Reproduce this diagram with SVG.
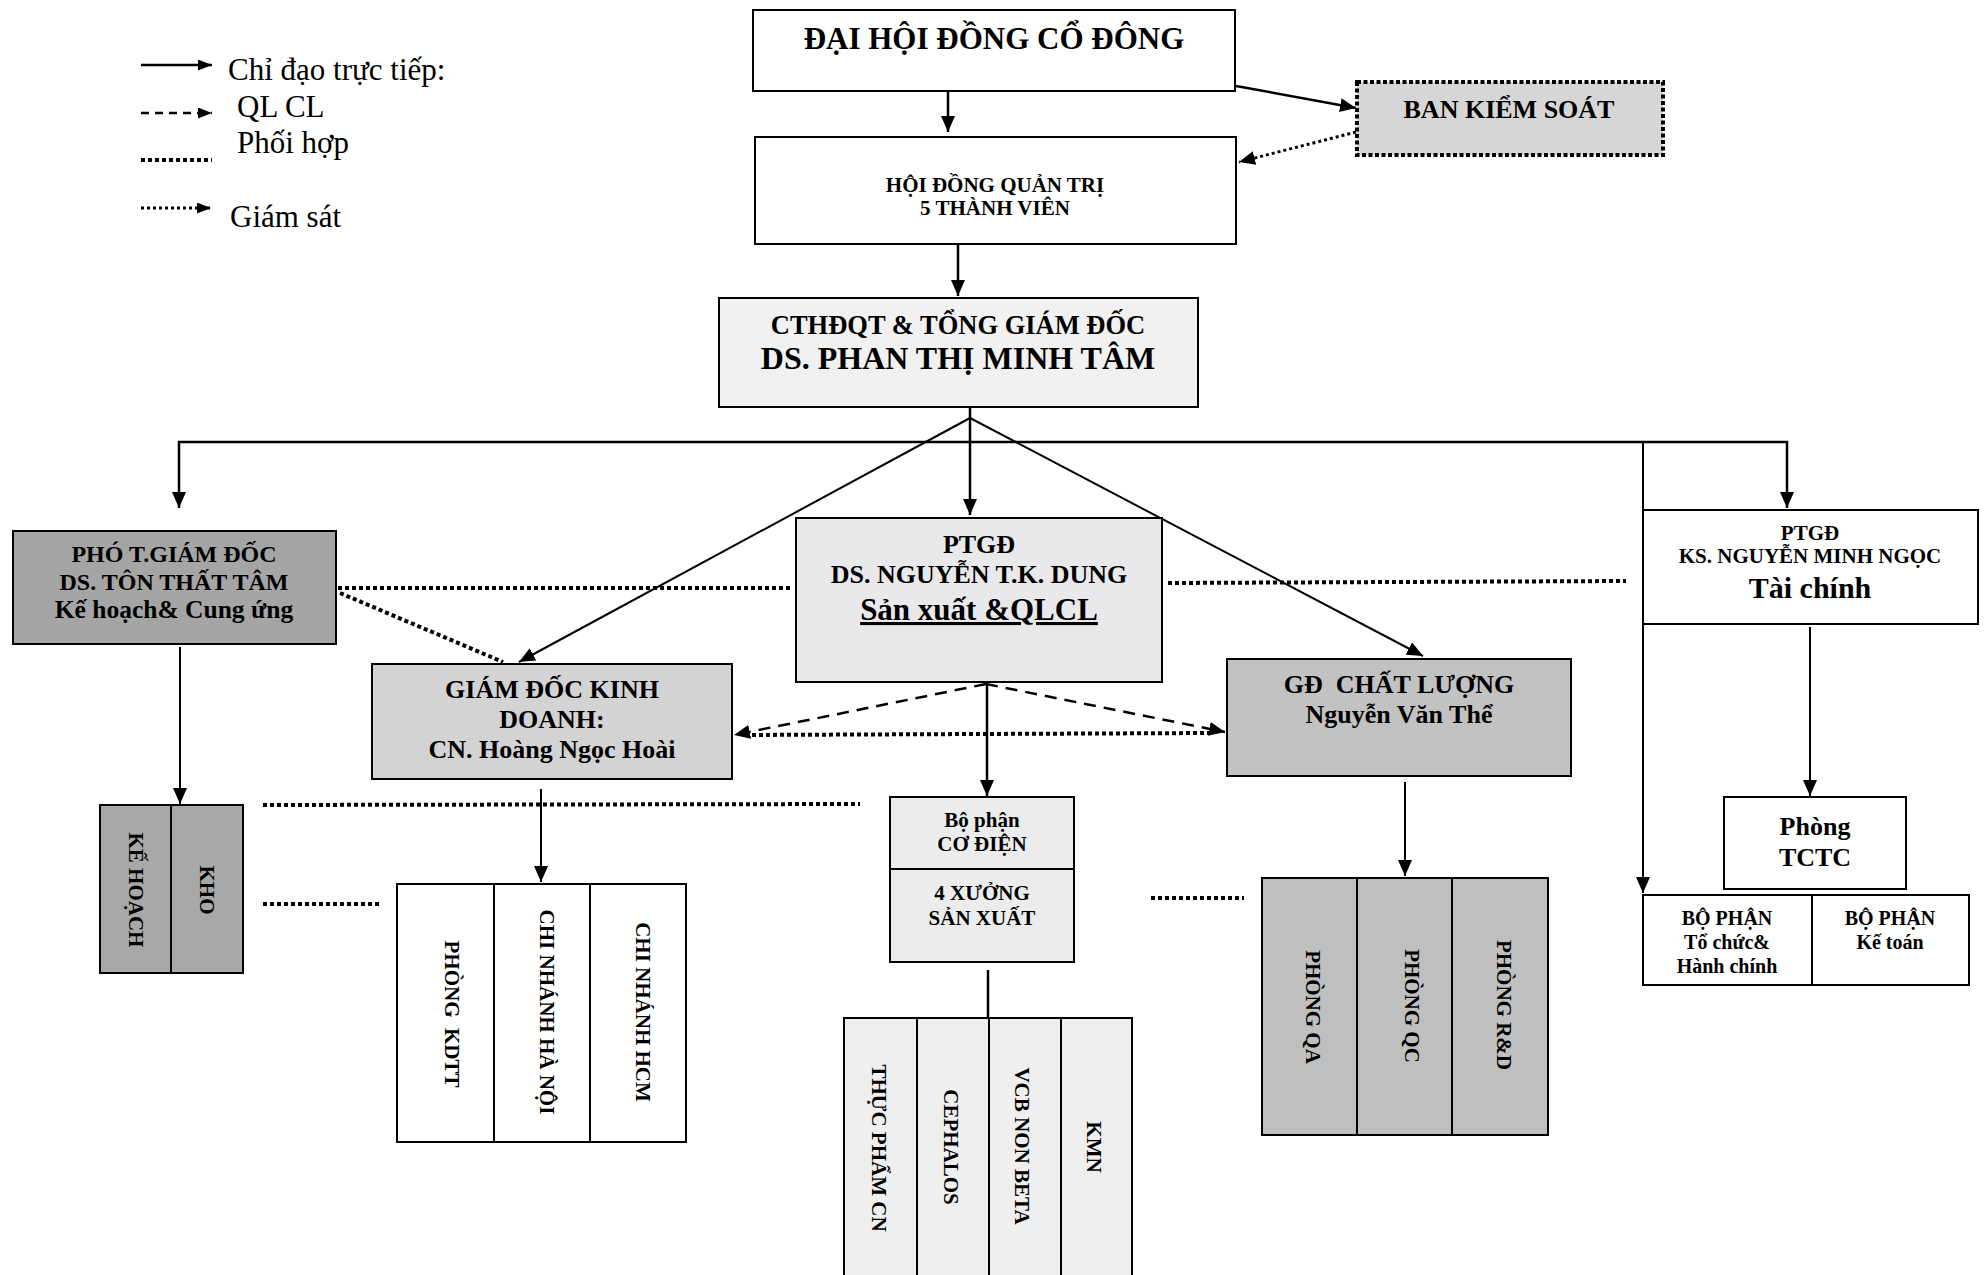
<svg xmlns="http://www.w3.org/2000/svg" width="1988" height="1275" viewBox="0 0 1988 1275">
<style>
.bx{stroke:#000;stroke-width:2}
.t{font-family:"Liberation Serif","Times New Roman",serif;font-weight:bold;fill:#000;text-anchor:middle}
.lg{font-family:"Liberation Serif","Times New Roman",serif;font-size:31px;fill:#000}
.v{dominant-baseline:central;font-size:21px}
.ln{stroke:#000;stroke-width:2.5;fill:none}
.th{stroke-width:2}
.dash{stroke-dasharray:12 8}
.dot{stroke-width:4;stroke-dasharray:4 3}
.gs{stroke-width:3;stroke-dasharray:3 3}
</style>
<defs>
<marker id="ah" viewBox="0 0 16 14" refX="16" refY="7" markerWidth="16" markerHeight="14" markerUnits="userSpaceOnUse" orient="auto"><path d="M0,0 L16,7 L0,14 z" fill="#000"/></marker>
<marker id="as" viewBox="0 0 14 11" refX="14" refY="5.5" markerWidth="14" markerHeight="11" markerUnits="userSpaceOnUse" orient="auto"><path d="M0,0 L14,5.5 L0,11 z" fill="#000"/></marker>
</defs>
<rect width="1988" height="1275" fill="#fff"/>

<g id="legend">
<line class="ln" x1="141" y1="65" x2="212" y2="65" marker-end="url(#as)"/>
<text class="lg" x="228" y="80">Chỉ đạo trực tiếp:</text>
<line class="ln dash" x1="141" y1="113" x2="212" y2="113" style="stroke-dasharray:8 6" marker-end="url(#as)"/>
<text class="lg" x="237" y="117">QL CL</text>
<text class="lg" x="237" y="153">Phối hợp</text>
<line class="ln dot" x1="141" y1="160" x2="212" y2="160"/>
<line class="ln gs" x1="141" y1="208" x2="211" y2="208" marker-end="url(#as)"/>
<text class="lg" x="230" y="227">Giám sát</text>
</g>

<g id="connectors">
<line class="ln" x1="948" y1="92" x2="948" y2="132" marker-end="url(#ah)"/>
<line class="ln" x1="1236" y1="86" x2="1356" y2="108" marker-end="url(#ah)"/>
<line class="ln gs" x1="1356" y1="132" x2="1239" y2="162" marker-end="url(#ah)"/>
<line class="ln" x1="958" y1="245" x2="958" y2="296" marker-end="url(#ah)"/>
<line class="ln" x1="970" y1="408" x2="970" y2="515" marker-end="url(#ah)"/>
<line class="ln th" x1="970" y1="418" x2="519" y2="662" marker-end="url(#ah)"/>
<line class="ln th" x1="970" y1="418" x2="1423" y2="656" marker-end="url(#ah)"/>
<path class="ln" d="M970,442 H179 V508" marker-end="url(#ah)"/>
<path class="ln" d="M970,442 H1787 V508" marker-end="url(#ah)"/>
<line class="ln th" x1="1643" y1="442" x2="1643" y2="893" marker-end="url(#ah)"/>
<line class="ln th" x1="180" y1="647" x2="180" y2="804" marker-end="url(#ah)"/>
<line class="ln th" x1="541" y1="789" x2="541" y2="882" marker-end="url(#ah)"/>
<line class="ln" x1="987" y1="683" x2="987" y2="796" marker-end="url(#ah)"/>
<line class="ln" x1="988" y1="970" x2="988" y2="1018"/>
<line class="ln th" x1="1405" y1="782" x2="1405" y2="876" marker-end="url(#ah)"/>
<line class="ln th" x1="1810" y1="627" x2="1810" y2="796" marker-end="url(#ah)"/>
<line class="ln dash" x1="986" y1="684" x2="734" y2="735" marker-end="url(#ah)"/>
<line class="ln dash" x1="986" y1="684" x2="1225" y2="732" marker-end="url(#ah)"/>
<line class="ln dot" x1="745" y1="735" x2="1212" y2="733"/>
<line class="ln dot" x1="338" y1="588" x2="790" y2="588"/>
<line class="ln dot" x1="1168" y1="583" x2="1626" y2="581"/>
<line class="ln dot" x1="340" y1="593" x2="503" y2="662"/>
<line class="ln dot" x1="263" y1="805" x2="860" y2="804"/>
<line class="ln dot" x1="263" y1="904" x2="380" y2="904"/>
<line class="ln dot" x1="1151" y1="898" x2="1244" y2="898"/>
</g>

<g id="dhdcd">
<rect class="bx" x="753" y="10" width="482" height="81" fill="#fff"/>
<text class="t" x="994" y="49" font-size="31">ĐẠI HỘI ĐỒNG CỔ ĐÔNG</text>
</g>

<g id="bks">
<rect x="1357" y="82" width="306" height="73" fill="#d6d6d6" stroke="#000" stroke-width="4" stroke-dasharray="4 2.5"/>
<text class="t" x="1509" y="118" font-size="26">BAN KIỂM SOÁT</text>
</g>

<g id="hdqt">
<rect class="bx" x="755" y="137" width="481" height="107" fill="#fff"/>
<text class="t" x="995" y="192" font-size="21">HỘI ĐỒNG QUẢN TRỊ</text>
<text class="t" x="995" y="215" font-size="21">5 THÀNH VIÊN</text>
</g>

<g id="tgd">
<rect class="bx" x="719" y="298" width="479" height="109" fill="#f1f1f1"/>
<text class="t" x="958" y="334" font-size="26.5">CTHĐQT &amp; TỔNG GIÁM ĐỐC</text>
<text class="t" x="958" y="369" font-size="32">DS. PHAN THỊ MINH TÂM</text>
</g>

<g id="pho-tgd">
<rect class="bx" x="13" y="531" width="323" height="113" fill="#a5a5a5"/>
<text class="t" x="174" y="562" font-size="24">PHÓ T.GIÁM ĐỐC</text>
<text class="t" x="174" y="590" font-size="24">DS. TÔN THẤT TÂM</text>
<text class="t" x="174" y="618" font-size="25.5">Kế hoạch&amp; Cung ứng</text>
</g>

<g id="gd-kd">
<rect class="bx" x="372" y="664" width="360" height="115" fill="#d3d3d3"/>
<text class="t" x="552" y="698" font-size="26">GIÁM ĐỐC KINH</text>
<text class="t" x="552" y="728" font-size="26">DOANH:</text>
<text class="t" x="552" y="758" font-size="26">CN. Hoàng Ngọc Hoài</text>
</g>

<g id="ptgd-dung">
<rect class="bx" x="796" y="518" width="366" height="164" fill="#e9e9eb"/>
<text class="t" x="979" y="553" font-size="26">PTGĐ</text>
<text class="t" x="979" y="583" font-size="26">DS. NGUYỄN T.K. DUNG</text>
<text class="t" x="979" y="620" font-size="31" text-decoration="underline">Sản xuất &amp;QLCL</text>
</g>

<g id="gd-cl">
<rect class="bx" x="1227" y="659" width="344" height="117" fill="#c2c2c2"/>
<text class="t" x="1399" y="693" font-size="26" style="white-space:pre">GĐ  CHẤT LƯỢNG</text>
<text class="t" x="1399" y="723" font-size="26">Nguyễn Văn Thể</text>
</g>

<g id="ptgd-ngoc">
<rect class="bx" x="1643" y="510" width="335" height="114" fill="#fff"/>
<text class="t" x="1810" y="540" font-size="21">PTGĐ</text>
<text class="t" x="1810" y="563" font-size="21">KS. NGUYỄN MINH NGỌC</text>
<text class="t" x="1810" y="598" font-size="30">Tài chính</text>
</g>

<g id="phong-tctc">
<rect class="bx" x="1724" y="797" width="182" height="92" fill="#fff"/>
<text class="t" x="1815" y="835" font-size="26">Phòng</text>
<text class="t" x="1815" y="866" font-size="26">TCTC</text>
</g>

<g id="bo-phan">
<rect class="bx" x="1643" y="895" width="326" height="90" fill="#fff"/>
<line class="bx" x1="1812" y1="895" x2="1812" y2="985"/>
<text class="t" x="1727" y="925" font-size="20">BỘ PHẬN</text>
<text class="t" x="1727" y="949" font-size="20">Tổ chức&amp;</text>
<text class="t" x="1727" y="973" font-size="20">Hành chính</text>
<text class="t" x="1890" y="925" font-size="20">BỘ PHẬN</text>
<text class="t" x="1890" y="949" font-size="20">Kế toán</text>
</g>

<g id="ke-hoach-kho">
<rect class="bx" x="100" y="805" width="143" height="168" fill="#a8a8a8"/>
<line class="bx" x1="171" y1="805" x2="171" y2="973"/>
<text class="t v" x="136" y="890" transform="rotate(90 136 890)">KẾ HOẠCH</text>
<text class="t v" x="207" y="890" transform="rotate(90 207 890)">KHO</text>
</g>

<g id="kinh-doanh-units">
<rect class="bx" x="397" y="884" width="289" height="258" fill="#fff"/>
<line class="bx" x1="494" y1="884" x2="494" y2="1142"/>
<line class="bx" x1="590" y1="884" x2="590" y2="1142"/>
<text class="t v" x="452" y="1014" transform="rotate(90 452 1014)" style="white-space:pre">PHÒNG  KDTT</text>
<text class="t v" x="547" y="1012" transform="rotate(90 547 1012)">CHI NHÁNH HÀ NỘI</text>
<text class="t v" x="643" y="1012" transform="rotate(90 643 1012)">CHI NHÁNH HCM</text>
</g>

<g id="co-dien">
<rect class="bx" x="890" y="797" width="184" height="165" fill="#ececec"/>
<line class="bx" x1="890" y1="869" x2="1074" y2="869"/>
<text class="t" x="982" y="827" font-size="21">Bộ phận</text>
<text class="t" x="982" y="851" font-size="21">CƠ ĐIỆN</text>
<text class="t" x="982" y="900" font-size="21">4 XƯỞNG</text>
<text class="t" x="982" y="925" font-size="21">SẢN XUẤT</text>
</g>

<g id="xuong-units">
<rect class="bx" x="844" y="1018" width="288" height="270" fill="#efefef"/>
<line class="bx" x1="917" y1="1018" x2="917" y2="1280"/>
<line class="bx" x1="989" y1="1018" x2="989" y2="1280"/>
<line class="bx" x1="1061" y1="1018" x2="1061" y2="1280"/>
<text class="t v" x="879" y="1148" transform="rotate(90 879 1148)">THỰC PHẨM CN</text>
<text class="t v" x="951" y="1147" transform="rotate(90 951 1147)">CEPHALOS</text>
<text class="t v" x="1022" y="1146" transform="rotate(90 1022 1146)">VCB NON BETA</text>
<text class="t v" x="1094" y="1147" transform="rotate(90 1094 1147)">KMN</text>
</g>

<g id="chat-luong-units">
<rect class="bx" x="1262" y="878" width="286" height="257" fill="#bfbfbf"/>
<line class="bx" x1="1357" y1="878" x2="1357" y2="1135"/>
<line class="bx" x1="1452" y1="878" x2="1452" y2="1135"/>
<text class="t v" x="1313" y="1007" transform="rotate(90 1313 1007)">PHÒNG QA</text>
<text class="t v" x="1412" y="1006" transform="rotate(90 1412 1006)">PHÒNG QC</text>
<text class="t v" x="1504" y="1005" transform="rotate(90 1504 1005)">PHÒNG R&amp;D</text>
</g>
</svg>
